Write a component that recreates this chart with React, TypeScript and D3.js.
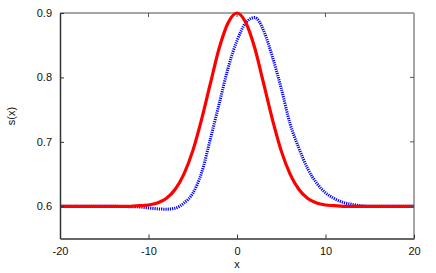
import React, { useRef, useEffect } from "react";
import * as d3 from "d3";

// x grid shared by both curves
const xs = [-20, -19, -18, -17, -16, -15, -14, -13, -12, -11, -10, -9, -8, -7, -6, -5, -4, -3, -2, -1, 0,
    1, 2, 3, 4, 5, 6, 7, 8, 9, 10, 11, 12, 13, 14, 15, 16, 17, 18, 19, 20];

// red solid curve
const redValues = [0.6, 0.6, 0.6, 0.6, 0.6, 0.6, 0.6, 0.6, 0.6, 0.601, 0.602, 0.605, 0.612, 0.626, 0.650, 0.686, 0.735, 0.791, 0.846, 0.885, 0.9,
    0.885, 0.846, 0.791, 0.735, 0.686, 0.650, 0.626, 0.612, 0.605, 0.602, 0.601, 0.6, 0.6, 0.6, 0.6, 0.6, 0.6, 0.6, 0.6, 0.6];

// blue dotted curve
const blueValues = [0.6, 0.6, 0.6, 0.6, 0.6, 0.6, 0.6, 0.5997, 0.5993, 0.599, 0.5975, 0.596, 0.5955, 0.597, 0.605, 0.620, 0.652, 0.705, 0.760, 0.815, 0.857,
    0.885, 0.893, 0.873, 0.832, 0.783, 0.728, 0.690, 0.658, 0.636, 0.621, 0.612, 0.606, 0.603, 0.601, 0.6, 0.6, 0.6, 0.6, 0.6, 0.6];

const xTicks = [-20, -10, 0, 10, 20];
const yTicks = [0.6, 0.7, 0.8, 0.9];

export default function App() {
    const svgRef = useRef<SVGSVGElement>(null);

    useEffect(() => {
        const width = 436, height = 273;
        const left = 60, right = 414, top = 13, bottom = 238.5;
        const font = "'Liberation Sans', Arial, sans-serif";

        const svg = d3.select(svgRef.current);
        svg.selectAll("*").remove();

        const x = d3.scaleLinear().domain([-20, 20]).range([left, right]);
        const y = d3.scaleLinear().domain([0.55, 0.9]).range([bottom, top]);

        // frame: top / right gray
        svg.append("line").attr("x1", left).attr("x2", right).attr("y1", top).attr("y2", top)
            .attr("stroke", "#888").attr("stroke-width", 1.5);
        svg.append("line").attr("x1", right).attr("x2", right).attr("y1", top).attr("y2", bottom)
            .attr("stroke", "#888").attr("stroke-width", 1.5);

        const line = d3.line<number>()
            .x((d, i) => x(xs[i]))
            .y(d => y(d))
            .curve(d3.curveMonotoneX);

        svg.append("path")
            .attr("d", line(blueValues))
            .attr("fill", "none")
            .attr("stroke", "#0000ff")
            .attr("stroke-width", 3)
            .attr("stroke-dasharray", "1.2,1");

        svg.append("path")
            .attr("d", line(redValues))
            .attr("fill", "none")
            .attr("stroke", "#ff0000")
            .attr("stroke-width", 3.2);

        // left / bottom axes
        const xAxis = svg.append("g").attr("transform", "translate(0," + bottom + ")")
            .call(d3.axisBottom(x).tickValues(xTicks).tickSizeInner(-4).tickSizeOuter(0).tickPadding(9)
                .tickFormat(d => String(d)));
        const yAxis = svg.append("g").attr("transform", "translate(" + left + ",0)")
            .call(d3.axisLeft(y).tickValues(yTicks).tickSizeInner(-4).tickSizeOuter(0).tickPadding(8)
                .tickFormat(d => (+d).toFixed(1)));
        [xAxis, yAxis].forEach(g => {
            g.select(".domain").attr("stroke", "#333").attr("stroke-width", 1.5);
            g.selectAll(".tick line").attr("stroke", "#333");
            g.selectAll("text").attr("font-family", font).attr("font-size", 11).attr("fill", "#111");
        });

        // mirrored ticks on top and right
        svg.append("g").selectAll("line").data(xTicks.slice(1, -1)).enter().append("line")
            .attr("x1", d => x(d)).attr("x2", d => x(d)).attr("y1", top).attr("y2", top + 4)
            .attr("stroke", "#555");
        svg.append("g").selectAll("line").data(yTicks.slice(0, -1)).enter().append("line")
            .attr("x1", right).attr("x2", right - 4).attr("y1", d => y(d)).attr("y2", d => y(d))
            .attr("stroke", "#555");

        svg.append("text").attr("x", (left + right) / 2).attr("y", 268)
            .attr("text-anchor", "middle").attr("font-family", font).attr("font-size", 11).attr("fill", "#111")
            .text("x");
        svg.append("text").attr("transform", "translate(15,116)rotate(-90)")
            .attr("text-anchor", "middle").attr("font-family", font).attr("font-size", 11).attr("fill", "#111")
            .text("s(x)");

        svg.attr("width", width).attr("height", height);
    }, []);

    return (
        <svg ref={svgRef} width={436} height={273}
            style={{ position: "absolute", left: 0, top: 0, background: "#fff" }} />
    );
}
